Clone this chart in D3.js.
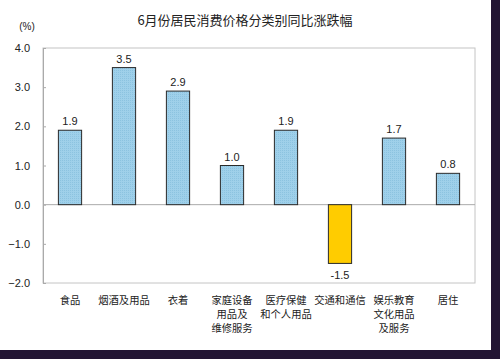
<!DOCTYPE html>
<html>
<head>
<meta charset="utf-8">
<script src="https://cdn.jsdelivr.net/npm/d3@7"></script>
<style>
  body { margin: 0; background: #fff; }
  text { font-family: "Liberation Sans", "Noto Sans CJK SC", sans-serif; fill: #222; }
  .cn { font-family: "Noto Sans CJK SC", sans-serif; }
</style>
</head>
<body>
<svg id="chart"></svg>
<script>
// data
const categories = [
    ['食品'],
    ['烟酒及用品'],
    ['衣着'],
    ['家庭设备', '用品及', '维修服务'],
    ['医疗保健', '和个人用品'],
    ['交通和通信'],
    ['娱乐教育', '文化用品', '及服务'],
    ['居住']
];
const values = [1.9, 3.5, 2.9, 1.0, 1.9, -1.5, 1.7, 0.8];
const yTicks = [-2, -1, 0, 1, 2, 3, 4];

const width = 500, height = 359;
const plotLeft = 43, plotRight = 475, plotTop = 48, plotBottom = 283;

let svg = d3.select('#chart')
    .attr('width', width)
    .attr('height', height);

// dark frame on right and bottom
svg.append('rect').attr('x', 0).attr('y', 0).attr('width', width).attr('height', height).attr('fill', '#221533');
svg.append('rect').attr('x', 0).attr('y', 0).attr('width', 491).attr('height', 350).attr('fill', '#fff');

let defs = svg.append('defs');
let pat = defs.append('pattern')
    .attr('id', 'dots')
    .attr('width', 2).attr('height', 2)
    .attr('patternUnits', 'userSpaceOnUse');
pat.append('rect').attr('width', 2).attr('height', 2).attr('fill', '#9fd0ea');
pat.append('rect').attr('width', 1).attr('height', 1).attr('fill', '#8cc3e0');

let x = d3.scaleBand()
    .domain(d3.range(values.length))
    .range([plotLeft, plotRight])
    .paddingInner(0.57)
    .paddingOuter(0.285);

let y = d3.scaleLinear()
    .domain([-2, 4])
    .range([plotBottom, plotTop]);

// frame
svg.append('rect')
    .attr('x', plotLeft).attr('y', plotTop)
    .attr('width', plotRight - plotLeft).attr('height', plotBottom - plotTop)
    .attr('fill', 'none').attr('stroke', '#c4c4c4');

// y axis
let yAxis = svg.append('g')
    .attr('transform', `translate(${plotLeft},0)`)
    .call(d3.axisLeft(y).tickValues(yTicks).tickFormat(d3.format('.1f')).tickSize(-3).tickPadding(13));
yAxis.select('.domain').attr('stroke', '#aaa');
yAxis.selectAll('.tick line').attr('stroke', '#aaa');
yAxis.selectAll('.tick text').attr('font-size', 11).attr('fill', '#222')
    .style('font-family', '"Liberation Sans", sans-serif');

// zero line
svg.append('line')
    .attr('x1', plotLeft).attr('x2', plotRight)
    .attr('y1', y(0)).attr('y2', y(0))
    .attr('stroke', '#aaa');

// bars
svg.selectAll('.bar')
    .data(values)
    .enter()
    .append('rect')
    .attr('class', 'bar')
    .attr('x', (d, i) => x(i))
    .attr('width', x.bandwidth())
    .attr('y', d => y(Math.max(0, d)))
    .attr('height', d => Math.abs(y(d) - y(0)))
    .attr('fill', d => d < 0 ? '#ffcc00' : 'url(#dots)')
    .attr('stroke', '#2a2a2a')
    .attr('stroke-width', 1);

// value labels
svg.selectAll('.val')
    .data(values)
    .enter()
    .append('text')
    .attr('x', (d, i) => x(i) + x.bandwidth() / 2)
    .attr('y', d => d >= 0 ? y(d) - 5 : y(d) + 16)
    .attr('text-anchor', 'middle')
    .attr('font-size', 11)
    .text(d => d.toFixed(1));

// category labels
let cat = svg.selectAll('.cat')
    .data(categories)
    .enter()
    .append('text')
    .attr('class', 'cn')
    .attr('text-anchor', 'middle')
    .attr('font-size', 10.3)
    .attr('x', (d, i) => x(i) + x.bandwidth() / 2)
    .attr('y', 304);
cat.selectAll('tspan')
    .data(d => d)
    .enter()
    .append('tspan')
    .attr('x', function () { return d3.select(this.parentNode).attr('x'); })
    .attr('dy', (d, i) => i === 0 ? 0 : 14)
    .text(d => d);

// title
svg.append('text')
    .attr('class', 'cn')
    .attr('x', 245).attr('y', 25)
    .attr('text-anchor', 'middle')
    .attr('font-size', 13)
    .text('6月份居民消费价格分类别同比涨跌幅');

svg.append('text')
    .attr('x', 27).attr('y', 30)
    .attr('text-anchor', 'middle')
    .attr('font-size', 10)
    .text('(%)');
</script>
</body>
</html>
